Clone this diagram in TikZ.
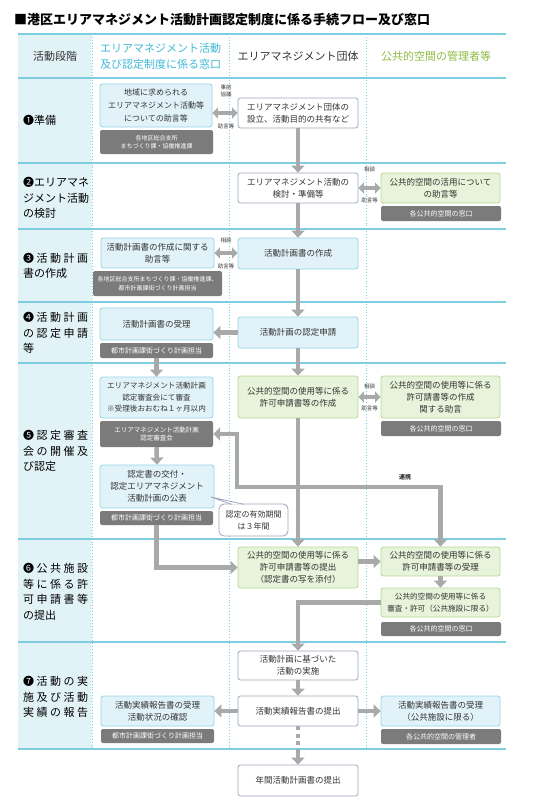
\documentclass[tikz,border=0pt]{standalone}
\usepackage{fontspec}
\setmainfont{Noto Sans CJK JP}
\usetikzlibrary{arrows.meta,calc}
\definecolor{cyanline}{HTML}{7FCDE0}
\definecolor{colfill}{HTML}{E2F3F8}
\definecolor{cfill}{HTML}{E1F3F9}
\definecolor{cborder}{HTML}{93D4E7}
\definecolor{gfill}{HTML}{E7F3DA}
\definecolor{gborder}{HTML}{B6DA92}
\definecolor{wborder}{HTML}{9DA6BE}
\definecolor{dgray}{HTML}{7B7B7B}
\definecolor{agray}{HTML}{A9A9A9}
\definecolor{txt}{HTML}{333333}
\definecolor{hcyan}{HTML}{3FB8D6}
\definecolor{hgreen}{HTML}{8DBB45}
\begin{document}
\begin{tikzpicture}[x=1pt,y=-1pt,
  sz/.style 2 args={minimum width=#1pt, minimum height=#2pt},
  box/.style={rectangle, rounded corners=2.5pt, inner sep=0pt, align=center, text=txt, font=\fontsize{8.5}{12}\selectfont, line width=0.8pt},
  cbox/.style={box, fill=cfill, draw=cborder},
  gbox/.style={box, fill=gfill, draw=gborder},
  wbox/.style={box, fill=white, draw=wborder},
  dbox/.style={rectangle, rounded corners=2pt, fill=dgray, text=white, inner sep=0pt, align=center, font=\fontsize{7}{8.5}\selectfont},
  dsmall/.style={dbox, font=\fontsize{6}{8.5}\selectfont},
  arr/.style={draw=agray, line width=4.5pt, -{Triangle[width=13pt,length=7pt]}},
  darr/.style={draw=agray, line width=4pt, {Triangle[width=11pt,length=5.5pt]}-{Triangle[width=11pt,length=5.5pt]}},
  tiny/.style={inner sep=0pt, text=txt, align=center, font=\fontsize{5.5}{7}\selectfont},
  rowlab/.style={anchor=west, inner sep=0pt, align=left, text=black, font=\fontsize{11}{15.5}\selectfont},
  hdr/.style={inner sep=0pt, align=center, font=\fontsize{11}{16}\selectfont}
]
\useasboundingbox (0,0) rectangle (541,800);
% title
\node[anchor=west, inner sep=0pt, font=\fontsize{13}{15}\selectfont\bfseries] (title) at (14,20) {■港区エリアマネジメント活動計画認定制度に係る手続フロー及び窓口};
% table
\fill[colfill] (18,34) rectangle (92,749);
\foreach \x in {92,229,366} \draw[cyanline, line width=0.9pt, dotted] (\x,34) -- (\x,749);
\foreach \y in {34,78,163,229,302,363,539,642,749} \draw[cyanline, line width=1.6pt] (18,\y) -- (506,\y);
% headers
\node[hdr, text=txt] (h1) at (55,56) {活動段階};
\node[hdr, text=hcyan] (h2) at (160.5,56) {エリアマネジメント活動\\及び認定制度に係る窓口};
\node[hdr, text=txt] (h3) at (298,56) {エリアマネジメント団体};
\node[hdr, text=hgreen] (h4) at (436,56) {公共的空間の管理者等};
% row labels
\node[rowlab] (r1lab) at (23,120.5) {❶準備};
\node[rowlab] (r2lab) at (23,198) {❷エリアマネ\\ジメント活動\\の検討};
\node[rowlab] (r3lab) at (23,266) {\makebox[65pt][s]{❸\hfill 活\hfill 動\hfill 計\hfill 画}\\書の作成};
\node[rowlab] (r4lab) at (23,333) {\makebox[65pt][s]{❹\hfill 活\hfill 動\hfill 計\hfill 画}\\\makebox[65pt][s]{の\hfill 認\hfill 定\hfill 申\hfill 請}\\等};
\node[rowlab] (r5lab) at (23,451) {\makebox[65pt][s]{❺\hfill 認\hfill 定\hfill 審\hfill 査}\\\makebox[65pt][s]{会\hfill の\hfill 開\hfill 催\hfill 及}\\び認定};
\node[rowlab] (r6lab) at (23,592) {\makebox[65pt][s]{❻\hfill 公\hfill 共\hfill 施\hfill 設}\\\makebox[65pt][s]{等\hfill に\hfill 係\hfill る\hfill 許}\\\makebox[65pt][s]{可\hfill 申\hfill 請\hfill 書\hfill 等}\\の提出};
\node[rowlab] (r7lab) at (23,697) {\makebox[65pt][s]{❼\hfill 活\hfill 動\hfill の\hfill 実}\\\makebox[65pt][s]{施\hfill 及\hfill び\hfill 活\hfill 動}\\\makebox[65pt][s]{実\hfill 績\hfill の\hfill 報\hfill 告}};
% row 1
\node[cbox, sz={112}{43}, font=\fontsize{8}{13}\selectfont] (l1) at (156,105.5) {地域に求められる\\エリアマネジメント活動等\\についての助言等};
\node[dsmall, sz={113}{24}] (g1) at (156.5,142) {各地区総合支所\\まちづくり課・協働推進課};
\node[wbox, sz={120}{30}] (m1) at (298,113) {エリアマネジメント団体の\\設立、活動目的の共有など};
% row 2
\node[wbox, sz={120}{30}] (m2) at (298,188) {エリアマネジメント活動の\\検討・準備等};
\node[gbox, sz={119}{30}] (r2) at (440.5,188) {公共的空間の活用について\\の助言等};
\node[dbox, sz={120}{15}] (g2) at (441,213.5) {各公共的空間の窓口};
% row 3
\node[cbox, sz={113}{30}] (l3) at (157.5,253) {活動計画書の作成に関する\\助言等};
\node[dsmall, sz={129}{25}] (g3) at (157.5,283.5) {各地区総合支所まちづくり課・協働推進課、\\都市計画課街づくり計画担当};
\node[cbox, sz={120}{31}] (m3) at (298,253.5) {活動計画書の作成};
% row 4
\node[cbox, sz={113}{32}] (l4) at (156.5,324) {活動計画書の受理};
\node[dbox, sz={113}{15}] (g4) at (156.5,350.5) {都市計画課街づくり計画担当};
\node[cbox, sz={120}{31}] (m4) at (298,332.5) {活動計画の認定申請};
% row 5
\node[cbox, sz={113}{41}, font=\fontsize{7.6}{11.5}\selectfont] (l5) at (156.5,397.5) {エリアマネジメント活動計画\\認定審査会にて審査\\※受理後おおむね１ヶ月以内};
\node[dbox, sz={113}{26}, font=\fontsize{6.5}{8.5}\selectfont] (g5a) at (156.5,434) {エリアマネジメント活動計画\\認定審査会};
\node[gbox, sz={120}{42}] (m5) at (298,397) {公共的空間の使用等に係る\\許可申請書等の作成};
\node[gbox, sz={119}{42}] (r5) at (440.5,397) {公共的空間の使用等に係る\\許可請書等の作成\\関する助言};
\node[dbox, sz={120}{15}] (g5r) at (441,428.5) {各公共的空間の窓口};
\node[cbox, sz={114}{43}] (l5b) at (157,486.5) {認定書の交付・\\認定エリアマネジメント\\活動計画の公表};
\node[dbox, sz={113}{14}] (g5b) at (156.5,518) {都市計画課街づくり計画担当};
\node[wbox, rounded corners=5pt, sz={69}{32}, font=\fontsize{8}{12}\selectfont] (cb) at (253.5,520) {認定の有効期間\\は３年間};
\coordinate (tt) at (211,497);
\coordinate (ta) at ($(cb.north west)+(13,0.7)$);
\coordinate (tb) at ($(cb.north west)+(25,0.7)$);
\fill[white] (tt) -- (ta) -- (tb) -- cycle;
\draw[wborder, line width=0.8pt] (ta) -- (tt) -- (tb);
% row 6
\node[gbox, sz={120}{41}] (m6) at (298,567.5) {公共的空間の使用等に係る\\許可申請書等の提出\\（認定書の写を添付）};
\node[gbox, sz={119}{29}] (r6a) at (440.5,561.5) {公共的空間の使用等に係る\\許可申請書等の受理};
\node[gbox, sz={119}{29}, font=\fontsize{7.6}{12}\selectfont] (r6b) at (440.5,602.5) {公共的空間の使用等に係る\\審査・許可（公共施設に限る）};
\node[dbox, sz={120}{14}] (g6) at (441,629) {各公共的空間の窓口};
% row 7
\node[wbox, sz={120}{29}] (m7a) at (298,665.5) {活動計画に基づいた\\活動の実施};
\node[wbox, sz={120}{30}] (m7b) at (298,711) {活動実績報告書の提出};
\node[cbox, sz={113}{30}] (l7) at (157.5,711) {活動実績報告書の受理\\活動状況の確認};
\node[dbox, sz={113}{14}] (g7l) at (157.5,736) {都市計画課街づくり計画担当};
\node[cbox, sz={119}{30}] (r7) at (440.5,711) {活動実績報告書の受理\\（公共施設に限る）};
\node[dbox, sz={120}{15}] (g7r) at (441,736.5) {各公共的空間の管理者};
\node[wbox, sz={120}{31}] (fin) at (298,780.5) {年間活動計画書の提出};
% connectors
\draw[arr] (m1.south) -- (m2.north);
\draw[arr] (m2.south) -- (m3.north);
\draw[arr] (m3.south) -- (m4.north);
\draw[arr] (m4.south) -- (m5.north);
\draw[arr] (m4.west) -- (m4.west -| l4.east);
\draw[arr] (g4.south) -- (l5.north);
\draw[arr] (g5a.south) -- (l5b.north);
\draw[arr] (m5.south) -- (m6.north);
\coordinate (j) at (298,487);
\coordinate (k) at (237,487);
\draw[arr] (j) -- (k) |- (g5a.east);
\draw[arr] (j) -| (r6a.north);
\draw[arr] (g5b.south) |- (m6.west);
\draw[arr] (m6.east |- r6a.west) -- (r6a.west);
\draw[arr] (r6a.south) -- (r6b.north);
\draw[arr] (r6b.west) -| (m7a.north);
\draw[arr] (m7a.south) -- (m7b.north);
\draw[arr] (m7b.west) -- (l7.east);
\draw[arr] (m7b.east) -- (r7.west);
\coordinate (d) at (298,752);
\draw[agray, line width=4.5pt, dash pattern=on 4pt off 3.5pt] (m7b.south) -- (d);
\draw[arr] (d) -- (fin.north);
% double arrows
\draw[darr] (l1.east |- m1.west) -- (m1.west);
\draw[darr] (m2.east) -- (r2.west);
\draw[darr] (l3.east) -- (l3.east -| m3.west);
\draw[darr] (m5.east) -- (r5.west);
\node[tiny] (a1t) at (226,90.5) {事前\\協議};
\node[tiny] (a1b) at (226,126) {助言等};
\node[tiny] (a2t) at (369.5,169) {相談};
\node[tiny] (a2b) at (369.5,200) {助言等};
\node[tiny] (a3t) at (226,240) {相談};
\node[tiny] (a3b) at (226,266) {助言等};
\node[tiny] (a5t) at (369.5,386) {相談};
\node[tiny] (a5b) at (369.5,408) {助言等};
\node[tiny, font=\fontsize{6}{7}\selectfont\bfseries] (lk) at (405,477) {連携};
\end{tikzpicture}
\end{document}
